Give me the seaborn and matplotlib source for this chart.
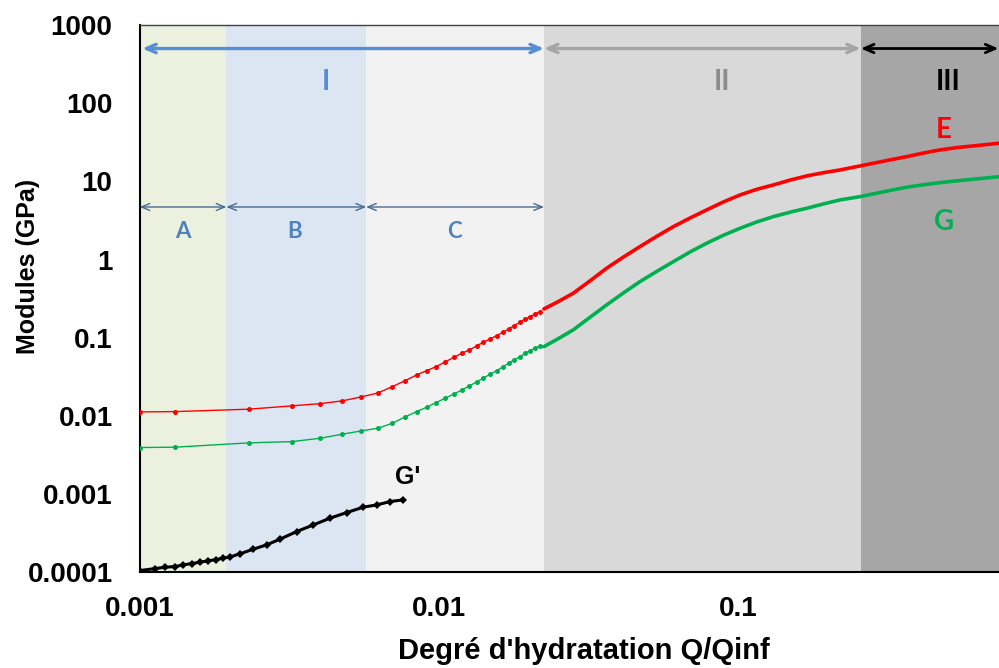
import numpy as np
import matplotlib
matplotlib.use('Agg')
import matplotlib.pyplot as plt
import matplotlib.ticker as mticker
import seaborn as sns

# valeurs (échelle log-log)
e_x_pts = [0.001, 0.00131, 0.00232, 0.00322, 0.00402, 0.00475, 0.00551, 0.00627, 0.0070,
           0.00773, 0.00844, 0.00912, 0.00980, 0.01052, 0.01125, 0.01197, 0.01266, 0.0134,
           0.0141, 0.01485, 0.01564, 0.01638, 0.01715, 0.01786, 0.01871, 0.01949, 0.0202,
           0.0210, 0.02183]
e_y_pts = [0.01125, 0.01135, 0.01219, 0.01343, 0.01436, 0.01555, 0.0175, 0.01968, 0.02371,
           0.02827, 0.03342, 0.03793, 0.04266, 0.04906, 0.05635, 0.06339, 0.06986, 0.07855,
           0.08755, 0.0965, 0.1064, 0.1175, 0.1297, 0.1428, 0.1578, 0.1724, 0.1862,
           0.2015, 0.2156]
g_y_pts = [0.00394, 0.00398, 0.00452, 0.00469, 0.00518, 0.00583, 0.00643, 0.00696, 0.00807,
           0.00971, 0.01135, 0.01292, 0.01479, 0.01684, 0.01911, 0.02149, 0.02419, 0.02722,
           0.03034, 0.03412, 0.03793, 0.04233, 0.04721, 0.052, 0.05729, 0.06332, 0.06837,
           0.07338, 0.07855]

# partie dense (mesures continues)
dense_x = [0.02249, 0.0252, 0.02818, 0.0321, 0.03645, 0.0414, 0.0471, 0.0536, 0.06095,
           0.0693, 0.0787, 0.0895, 0.1018, 0.1157, 0.1316, 0.150, 0.1702, 0.1935,
           0.2199, 0.2566, 0.2839, 0.323, 0.367, 0.4175, 0.4745, 0.540, 0.6135, 0.76]
e_y_dense = [0.2333, 0.292, 0.3706, 0.535, 0.7746, 1.07, 1.463, 1.98, 2.636,
             3.40, 4.307, 5.45, 6.698, 7.90, 8.994, 10.4, 11.73, 12.9,
             13.99, 15.74, 17.03, 18.8, 20.69, 23.0, 25.22, 27.0, 28.39, 30.9]
g_y_dense = [0.0769, 0.098, 0.1259, 0.183, 0.2627, 0.372, 0.5212, 0.705, 0.9396,
             1.25, 1.615, 2.04, 2.512, 3.02, 3.538, 4.04, 4.529, 5.14,
             5.786, 6.373, 6.90, 7.65, 8.41, 9.05, 9.621, 10.15, 10.64, 11.55]

# G'
gp_x = [0.001, 0.001125, 0.001215, 0.001312, 0.001399, 0.001493, 0.001591, 0.001695,
        0.001798, 0.001904, 0.002005, 0.002164, 0.002397, 0.002659, 0.002945, 0.00335,
        0.003811, 0.004329, 0.004921, 0.005596, 0.006205, 0.006879, 0.007585]
gp_y = [1.051e-4, 1.115e-4, 1.161e-4, 1.183e-4, 1.244e-4, 1.292e-4, 1.346e-4, 1.399e-4,
        1.453e-4, 1.514e-4, 1.574e-4, 1.719e-4, 1.974e-4, 2.241e-4, 2.65e-4, 3.316e-4,
        4.039e-4, 4.92e-4, 5.801e-4, 6.802e-4, 7.278e-4, 8.017e-4, 8.433e-4]

# zones
bornes = [0.001, 0.00195, 0.00572, 0.0225, 0.258, 0.76]
couleurs_zones = ['#ebf1de', '#dce6f2', '#f2f2f2', '#d9d9d9', '#a6a6a6']

xtick_vals = [0.001, 0.01, 0.1]
xtick_labels = ['0.001', '0.01', '0.1']
ytick_vals = [0.0001, 0.001, 0.01, 0.1, 1, 10, 100, 1000]
ytick_labels = ['0.0001', '0.001', '0.01', '0.1', '1', '10', '100', '1000']

sns.set_style('white')
plt.rcParams['font.family'] = ['Liberation Sans', 'DejaVu Sans']

fig = plt.figure(figsize=(9.99, 6.68), dpi=100)
ax = fig.add_axes([0.1398, 0.1433, 0.8602, 0.8193])
ax.set_xscale('log')
ax.set_yscale('log')

for i, c in enumerate(couleurs_zones):
    ax.axvspan(bornes[i], bornes[i + 1], color=c, lw=0, zorder=0)

RED = '#ff0000'
GREEN = '#00b050'
sns.lineplot(x=e_x_pts, y=e_y_pts, ax=ax, color=RED, lw=1.0, marker='o', markersize=3.6,
             markeredgewidth=0, sort=False, estimator=None, zorder=3)
sns.lineplot(x=e_x_pts, y=g_y_pts, ax=ax, color=GREEN, lw=1.0, marker='o', markersize=3.6,
             markeredgewidth=0, sort=False, estimator=None, zorder=3)
sns.lineplot(x=dense_x, y=e_y_dense, ax=ax, color=RED, lw=2.6, sort=False, estimator=None, zorder=3)
sns.lineplot(x=dense_x, y=g_y_dense, ax=ax, color=GREEN, lw=2.6, sort=False, estimator=None, zorder=3)
sns.lineplot(x=gp_x, y=gp_y, ax=ax, color='black', lw=2.2, marker='D', markersize=3.6,
             markeredgewidth=0, sort=False, estimator=None, zorder=4)

ax.set_xlim(0.001, 0.748)
ax.set_ylim(0.0001, 1000)

# flèches des domaines
def fleche(x0, x1, y, col, lw, hl, hw):
    ax.annotate('', xy=(x1, y), xytext=(x0, y),
                arrowprops=dict(arrowstyle=f'<->,head_length={hl},head_width={hw}',
                                color=col, lw=lw, shrinkA=0, shrinkB=0), zorder=5)

fleche(0.00102, 0.0225, 500, '#558ed5', 2.4, 0.7, 0.3)
fleche(0.0225, 0.258, 500, '#a6a6a6', 2.4, 0.7, 0.3)
fleche(0.258, 0.745, 500, 'black', 2.0, 0.7, 0.3)
fleche(0.001, 0.00195, 4.7, '#4a6a90', 1.0, 0.6, 0.25)
fleche(0.00195, 0.00572, 4.7, '#4a6a90', 1.0, 0.6, 0.25)
fleche(0.00572, 0.0225, 4.7, '#4a6a90', 1.0, 0.6, 0.25)

lab = dict(family=['Lato', 'DejaVu Sans'], fontweight='bold', ha='center', va='center', zorder=6)
ax.text(0.0042, 185, 'I', color='#558ed5', fontsize=20, **lab)
ax.text(0.0888, 185, 'II', color='#8c8c8c', fontsize=20, **lab)
ax.text(0.506, 185, 'III', color='black', fontsize=20, **lab)
ax.text(0.0014, 2.3, 'A', color='#4f81bd', fontsize=16, **lab)
ax.text(0.0033, 2.3, 'B', color='#4f81bd', fontsize=16, **lab)
ax.text(0.0113, 2.3, 'C', color='#4f81bd', fontsize=16, **lab)
ax.text(0.49, 46, 'E', color=RED, fontsize=20, **lab)
ax.text(0.49, 3.06, 'G', color=GREEN, fontsize=20, **lab)
ax.text(0.0079, 0.00165, "G'", color='black', fontsize=18, fontweight='bold',
        ha='center', va='center', zorder=6)

ax.xaxis.set_major_locator(mticker.FixedLocator(xtick_vals))
ax.xaxis.set_major_formatter(mticker.FixedFormatter(xtick_labels))
ax.xaxis.set_minor_locator(mticker.LogLocator(base=10, subs=np.arange(2, 10)))
ax.xaxis.set_minor_formatter(mticker.NullFormatter())
ax.yaxis.set_major_locator(mticker.FixedLocator(ytick_vals))
ax.yaxis.set_major_formatter(mticker.FixedFormatter(ytick_labels))
ax.yaxis.set_minor_locator(mticker.NullLocator())

ax.tick_params(axis='x', which='major', direction='inout', length=14, width=1, color='#555555',
               labelsize=20, pad=10, labelcolor='black')
ax.tick_params(axis='x', which='minor', direction='in', length=6, width=1, color='#777777')
ax.tick_params(axis='y', which='major', direction='out', length=6.5, width=1, color='#777777',
               labelsize=20, pad=13, labelcolor='black')
for lbl in ax.get_xticklabels() + ax.get_yticklabels():
    lbl.set_fontweight('bold')

for s in ['left', 'bottom']:
    ax.spines[s].set_color('black')
    ax.spines[s].set_linewidth(1.5)
ax.spines['top'].set_color('#404040')
ax.spines['top'].set_linewidth(1.0)
ax.spines['right'].set_visible(False)

ax.set_xlabel("Degré d'hydratation Q/Qinf", fontsize=21, fontweight='bold', color='black')
ax.set_ylabel('Modules (GPa)', fontsize=18, fontweight='bold', color='black')
ax.xaxis.set_label_coords(0.517, -0.119)
ax.yaxis.set_label_coords(-0.116, 0.558)

fig.savefig('out.png', dpi=100)
